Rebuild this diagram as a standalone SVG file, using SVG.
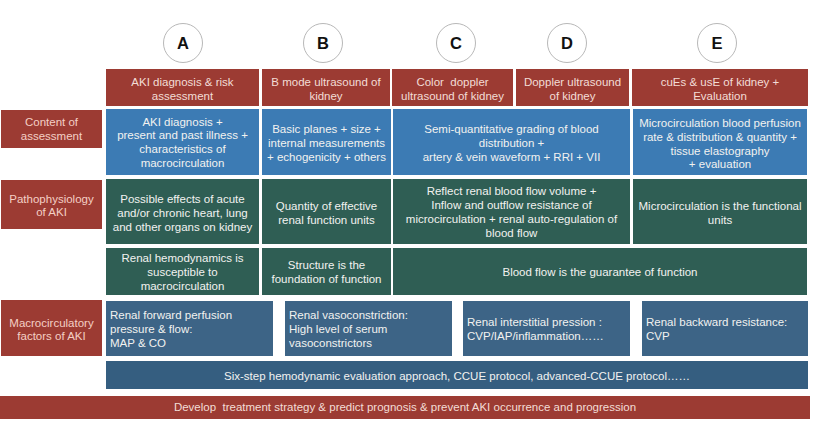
<svg xmlns="http://www.w3.org/2000/svg" width="814" height="423" viewBox="0 0 814 423">
<style>
text{font-family:"Liberation Sans",Arial,sans-serif;font-size:11.5px;fill:#f2f2f0;}
.c{text-anchor:middle;}
.l{text-anchor:start;}
.pre{white-space:pre;}
.red{fill:#9c3b33;}
.lab{fill:#f4cfc5;}
.hd{fill:#f3ddd6;}
.blue{fill:#3c7bb4;}
.green{fill:#2f5e54;}
.mac{fill:#3d6486;}
.six{fill:#355e80;}
.circ{fill:#fff;stroke:#b8b8b8;stroke-width:1;}
.let{font-size:16.5px;font-weight:bold;fill:#111;text-anchor:middle;}
</style>
<rect width="814" height="423" fill="#fff"/>
<g id="circles">
<g id="cA"><circle class="circ" cx="183" cy="43" r="19.5"/><text class="let" x="183" y="49">A</text></g>
<g id="cB"><circle class="circ" cx="323" cy="43" r="19.5"/><text class="let" x="323" y="49">B</text></g>
<g id="cC"><circle class="circ" cx="456" cy="43" r="19.5"/><text class="let" x="456" y="49">C</text></g>
<g id="cD"><circle class="circ" cx="567" cy="43" r="19.5"/><text class="let" x="567" y="49">D</text></g>
<g id="cE"><circle class="circ" cx="717" cy="43" r="19.5"/><text class="let" x="717" y="49">E</text></g>
</g>
<g id="headers">
<g id="hA"><rect class="red" x="106" y="69" width="153" height="37"/><text class="c hd" x="182.5" y="86">AKI diagnosis &amp; risk</text><text class="c hd" x="182.5" y="100">assessment</text></g>
<g id="hB"><rect class="red" x="262" y="69" width="128" height="37"/><text class="c hd" x="326" y="86">B mode ultrasound of</text><text class="c hd" x="326" y="100">kidney</text></g>
<g id="hC"><rect class="red" x="392" y="69" width="121" height="37"/><text class="c hd pre" x="452.5" y="86">Color  doppler</text><text class="c hd" x="452.5" y="100">ultrasound of kidney</text></g>
<g id="hD"><rect class="red" x="516" y="69" width="113" height="37"/><text class="c hd" x="572.5" y="86">Doppler ultrasound</text><text class="c hd" x="572.5" y="100">of kidney</text></g>
<g id="hE"><rect class="red" x="632" y="69" width="176" height="37"/><text class="c hd" x="720" y="86">cuEs &amp; usE of kidney +</text><text class="c hd" x="720" y="100">Evaluation</text></g>
</g>
<g id="labels">
<g id="lab1"><rect class="red" x="1" y="110" width="101" height="38"/><text class="c lab" x="51.5" y="126">Content of</text><text class="c lab" x="51.5" y="140">assessment</text></g>
<g id="lab2"><rect class="red" x="1" y="180" width="101" height="49"/><text class="c lab" x="51.5" y="203">Pathophysiology</text><text class="c lab" x="51.5" y="216">of AKI</text></g>
<g id="lab3"><rect class="red" x="1" y="300" width="101" height="56"/><text class="c lab" x="51.5" y="327">Macrocirculatory</text><text class="c lab" x="51.5" y="340">factors of AKI</text></g>
</g>
<g id="content">
<g id="coA"><rect class="blue" x="106" y="109" width="153" height="66"/><text class="c" x="182.5" y="126">AKI diagnosis +</text><text class="c" x="182.5" y="139">present and past illness +</text><text class="c" x="182.5" y="153">characteristics of</text><text class="c" x="182.5" y="167">macrocirculation</text></g>
<g id="coB"><rect class="blue" x="262" y="109" width="129" height="66"/><text class="c" x="326.5" y="133">Basic planes + size +</text><text class="c" x="326.5" y="147">internal measurements</text><text class="c" x="326.5" y="161">+ echogenicity + others</text></g>
<g id="coCD"><rect class="blue" x="393" y="109" width="237" height="66"/><text class="c" x="511.5" y="133">Semi-quantitative grading of blood</text><text class="c" x="511.5" y="147">distribution +</text><text class="c" x="511.5" y="161">artery &amp; vein waveform + RRI + VII</text></g>
<g id="coE"><rect class="blue" x="633" y="109" width="174" height="66"/><text class="c" x="720" y="127">Microcirculation blood perfusion</text><text class="c" x="720" y="141">rate &amp; distribution &amp; quantity +</text><text class="c" x="720" y="155">tissue elastography</text><text class="c" x="720" y="168">+ evaluation</text></g>
</g>
<g id="patho">
<g id="paA"><rect class="green" x="106" y="179" width="153" height="65"/><text class="c" x="182.5" y="203">Possible effects of acute</text><text class="c" x="182.5" y="217">and/or chronic heart, lung</text><text class="c" x="182.5" y="231">and other organs on kidney</text></g>
<g id="paB"><rect class="green" x="262" y="179" width="129" height="65"/><text class="c" x="326.5" y="210">Quantity of effective</text><text class="c" x="326.5" y="224">renal function units</text></g>
<g id="paCD"><rect class="green" x="393" y="179" width="237" height="65"/><text class="c" x="511.5" y="195">Reflect renal blood flow volume +</text><text class="c" x="511.5" y="209">Inflow and outflow resistance of</text><text class="c" x="511.5" y="223">microcirculation + renal auto-regulation of</text><text class="c" x="511.5" y="237">blood flow</text></g>
<g id="paE"><rect class="green" x="633" y="179" width="174" height="65"/><text class="c" x="720" y="210">Microcirculation is the functional</text><text class="c" x="720" y="224">units</text></g>
</g>
<g id="function">
<g id="fuA"><rect class="green" x="106" y="248" width="153" height="47"/><text class="c" x="182.5" y="262">Renal hemodynamics is</text><text class="c" x="182.5" y="276">susceptible to</text><text class="c" x="182.5" y="290">macrocirculation</text></g>
<g id="fuB"><rect class="green" x="262" y="248" width="129" height="47"/><text class="c" x="326.5" y="269">Structure is the</text><text class="c" x="326.5" y="283">foundation of function</text></g>
<g id="fuCE"><rect class="green" x="393" y="248" width="414" height="47"/><text class="c" x="600" y="276">Blood flow is the guarantee of function</text></g>
</g>
<g id="macro">
<g id="ma1"><rect class="mac" x="106" y="301" width="167" height="55"/><text class="l" x="110" y="319">Renal forward perfusion</text><text class="l" x="110" y="333">pressure &amp; flow:</text><text class="l" x="110" y="347">MAP &amp; CO</text></g>
<g id="ma2"><rect class="mac" x="285" y="301" width="167" height="55"/><text class="l" x="289" y="319">Renal vasoconstriction:</text><text class="l" x="289" y="333">High level of serum</text><text class="l" x="289" y="347">vasoconstrictors</text></g>
<g id="ma3"><rect class="mac" x="463" y="301" width="167" height="55"/><text class="l" x="467" y="326">Renal interstitial pression :</text><text class="l" x="467" y="340">CVP/IAP/inflammation……</text></g>
<g id="ma4"><rect class="mac" x="642" y="301" width="166" height="55"/><text class="l" x="646" y="326">Renal backward resistance:</text><text class="l" x="646" y="340">CVP</text></g>
</g>
<g id="six"><rect class="six" x="106" y="361" width="702" height="28"/><text class="c" x="457" y="380">Six-step hemodynamic evaluation approach, CCUE protocol, advanced-CCUE protocol……</text></g>
<g id="bottom"><rect class="red" x="0" y="396" width="810" height="23"/><text class="c hd pre" x="405" y="411">Develop  treatment strategy &amp; predict prognosis &amp; prevent AKI occurrence and progression</text></g>
<g id="connectors"></g>
</svg>
